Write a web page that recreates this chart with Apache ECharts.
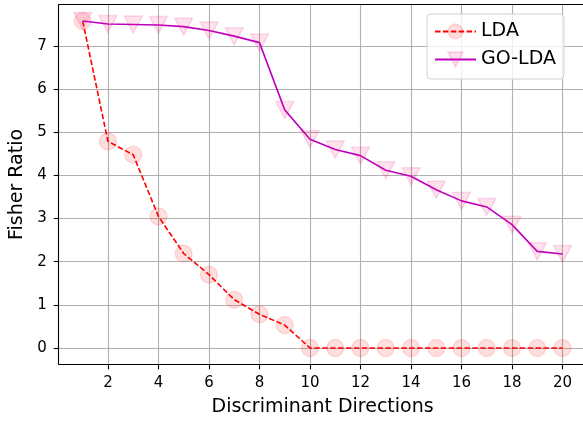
<!DOCTYPE html>
<html>
<head>
<meta charset="utf-8">
<script src="https://cdn.jsdelivr.net/npm/echarts@6/dist/echarts.min.js"></script>
<style>
  html, body { margin: 0; padding: 0; background: #fff; overflow: hidden; }
  /* wider than the window: the plot runs past the right edge like the reference */
  #chart { width: 620px; height: 424px; }
</style>
</head>
<body>
<div id="chart"></div>
<script>
// values
const directions = [1, 2, 3, 4, 5, 6, 7, 8, 9, 10, 11, 12, 13, 14, 15, 16, 17, 18, 19, 20];
const ldaRatio = [7.58, 4.79, 4.48, 3.05, 2.19, 1.70, 1.12, 0.78, 0.53, 0, 0, 0, 0, 0, 0, 0, 0, 0, 0, 0];
const goLdaRatio = [7.58, 7.51, 7.50, 7.49, 7.45, 7.36, 7.23, 7.08, 5.52, 4.84, 4.60, 4.46, 4.12, 3.98, 3.67, 3.41, 3.27, 2.86, 2.24, 2.18];
const xTicks = [2, 4, 6, 8, 10, 12, 14, 16, 18, 20];
const yTicks = [0, 1, 2, 3, 4, 5, 6, 7];

const font = "DejaVu Sans";
const chart = echarts.init(document.getElementById("chart"));

chart.setOption({
  animation: false,
  textStyle: { fontFamily: font },
  grid: {
    left: 58.7,
    top: 4.7,
    width: 527.8,
    height: 359.6,
    outerBoundsMode: "none",
    containLabel: false
  },
  legend: {
    orient: "vertical",
    align: "left",
    left: 427,
    top: 14,
    padding: [8, 8, 10, 7],
    itemWidth: 41,
    itemHeight: 18,
    itemGap: 9,
    itemTextGap: 16,
    backgroundColor: "rgba(255,255,255,0.8)",
    borderColor: "#d0d0d0",
    borderWidth: 1,
    borderRadius: 4,
    textStyle: { fontFamily: font, fontSize: 19, color: "#000" },
    data: ["LDA", "GO-LDA"]
  },
  xAxis: [
    {
      type: "value",
      min: 0.05,
      max: 20.95,
      name: "Discriminant Directions",
      nameLocation: "middle",
      nameGap: 33,
      nameTextStyle: { fontFamily: font, fontSize: 19, color: "#000" },
      axisLine: { show: true, onZero: false, lineStyle: { color: "#000", width: 1.1 } },
      axisTick: {
        show: true,
        length: 5,
        customValues: xTicks,
        lineStyle: { color: "#000", width: 1.1 }
      },
      axisLabel: {
        customValues: xTicks,
        margin: 11,
        fontFamily: font,
        fontSize: 15,
        color: "#000"
      },
      splitLine: { show: true, lineStyle: { color: "#b0b0b0", width: 1.1 } }
    },
    {
      // top spine only
      type: "value",
      position: "top",
      min: 0.05,
      max: 20.95,
      axisLine: { show: true, onZero: false, lineStyle: { color: "#000", width: 1.1 } },
      axisTick: { show: false },
      axisLabel: { show: false },
      splitLine: { show: false, showMinLine: false, showMaxLine: false }
    }
  ],
  yAxis: {
    type: "value",
    min: -0.379,
    max: 7.959,
    name: "Fisher Ratio",
    nameLocation: "middle",
    nameGap: 30,
    nameTextStyle: { fontFamily: font, fontSize: 19, color: "#000" },
    axisLine: { show: true, onZero: false, lineStyle: { color: "#000", width: 1.1 } },
    axisTick: {
      show: true,
      length: 5,
      customValues: yTicks,
      lineStyle: { color: "#000", width: 1.1 }
    },
    axisLabel: {
      customValues: yTicks,
      margin: 12,
      fontFamily: font,
      fontSize: 15,
      color: "#000"
    },
    splitLine: { show: true, lineStyle: { color: "#b0b0b0", width: 1.1 } }
  },
  series: [
    {
      name: "LDA",
      type: "line",
      data: directions.map((d, i) => [d, ldaRatio[i]]),
      symbol: "circle",
      symbolSize: 17,
      lineStyle: { color: "#ff0000", width: 1.6, type: [5.5, 2.4] },
      itemStyle: {
        color: "rgba(255,0,0,0.13)",
        borderColor: "rgba(255,0,0,0.12)",
        borderWidth: 1.5
      },
      z: 2
    },
    {
      name: "GO-LDA",
      type: "line",
      data: directions.map((d, i) => [d, goLdaRatio[i]]),
      symbol: "triangle",
      symbolRotate: 180,
      symbolSize: [18, 17],
      lineStyle: { color: "#bf00bf", width: 1.6 },
      itemStyle: {
        color: "rgba(255,20,100,0.12)",
        borderColor: "rgba(220,0,140,0.14)",
        borderWidth: 1.5
      },
      z: 3
    }
  ]
});
</script>
</body>
</html>
